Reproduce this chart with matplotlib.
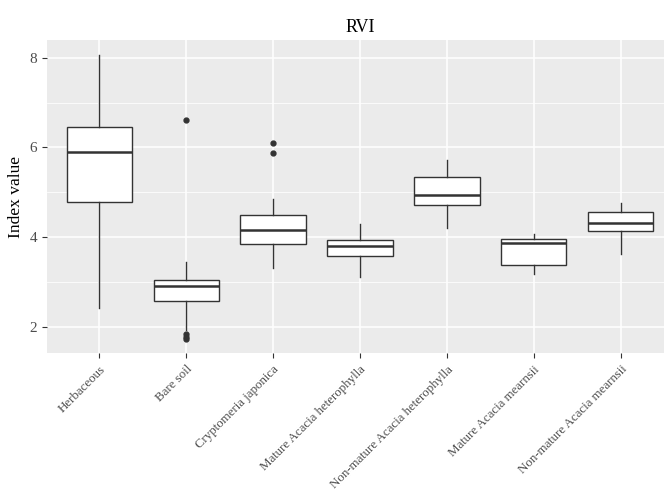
import matplotlib
matplotlib.use("Agg")
import matplotlib.pyplot as plt
from matplotlib.ticker import MultipleLocator

plt.rcParams['font.family'] = ['Liberation Serif', 'DejaVu Serif']

# values (RVI boxplot)
categories = ["Herbaceous", "Bare soil", "Cryptomeria japonica",
              "Mature Acacia heterophylla", "Non-mature Acacia heterophylla",
              "Mature Acacia mearnsii", "Non-mature Acacia mearnsii"]
whisker_low = [2.41, 1.93, 3.31, 3.10, 4.21, 3.18, 3.63]
q1 = [4.78, 2.58, 3.85, 3.57, 4.71, 3.37, 4.13]
median = [5.90, 2.90, 4.15, 3.80, 4.93, 3.86, 4.32]
q3 = [6.45, 3.04, 4.50, 3.93, 5.34, 3.95, 4.56]
whisker_high = [8.07, 3.44, 4.85, 4.29, 5.72, 4.07, 4.76]
outliers = [[], [6.62, 1.83, 1.76, 1.72], [6.11, 5.87], [], [], [], []]

stats = []
for i, name in enumerate(categories):
    stats.append(dict(label=name, whislo=whisker_low[i], q1=q1[i], med=median[i],
                      q3=q3[i], whishi=whisker_high[i], fliers=outliers[i]))

fig = plt.figure(figsize=(6.64, 4.93), dpi=100)
ax = fig.add_axes([47 / 664, 140 / 493, 626 / 664, 313 / 493])
ax.set_facecolor("#EBEBEB")

line_col = "#333333"
ax.bxp(stats, positions=range(1, 8), widths=0.75, patch_artist=True,
       showcaps=False,
       boxprops=dict(facecolor="white", edgecolor=line_col, linewidth=1.0),
       whiskerprops=dict(color=line_col, linewidth=1.0),
       medianprops=dict(color=line_col, linewidth=1.8),
       flierprops=dict(marker="o", markerfacecolor=line_col, markeredgecolor=line_col,
                       markersize=3.5))

ax.set_xlim(0.4, 7.6)
ax.set_ylim(1.41, 8.4)
ax.yaxis.set_major_locator(MultipleLocator(2))
ax.yaxis.set_minor_locator(MultipleLocator(1))
ax.set_xticks(range(1, 8))
ax.set_xticklabels(categories, rotation=45, ha="right", va="top",
                   rotation_mode="anchor")

ax.grid(which="major", color="white", linewidth=1.1)
ax.grid(which="minor", axis="y", color="white", linewidth=0.55)
ax.set_axisbelow(True)
for s in ax.spines.values():
    s.set_visible(False)

ax.tick_params(axis="both", which="major", color="#333333", length=3.5,
               labelcolor="#4D4D4D", width=0.8)
ax.tick_params(axis="x", labelsize=9.3, pad=4)
ax.tick_params(axis="y", labelsize=11)
ax.tick_params(axis="y", which="minor", length=0)

ax.set_ylabel("Index value", fontsize=12.5, labelpad=4)
ax.set_title("RVI", fontsize=13, pad=6)

fig.savefig("out.png", dpi=100)
